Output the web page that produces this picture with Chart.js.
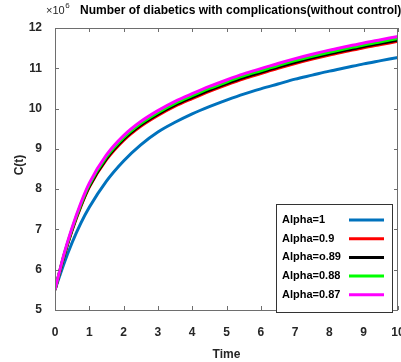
<!DOCTYPE html>
<html>
<head>
<meta charset="utf-8">
<script src="https://cdn.jsdelivr.net/npm/chart.js@4"></script>
<style>
  html, body { margin: 0; padding: 0; background: #fff; }
  #wrap { width: 401px; height: 362px; }
</style>
</head>
<body>
<div id="wrap"><canvas id="cChart" width="401" height="362"></canvas></div>
<script>
// time points and series values (units of 1e6)
const times = [0, 0.25, 0.5, 0.75, 1, 1.5, 2, 2.5, 3, 3.5, 4, 4.5, 5, 5.5, 6, 6.5, 7, 7.5, 8, 8.5, 9, 9.5, 10];
const alpha1   = [5.5, 6.125, 6.675, 7.15, 7.55, 8.2, 8.7, 9.1, 9.42, 9.66, 9.87, 10.05, 10.21, 10.36, 10.49, 10.61, 10.73, 10.83, 10.93, 11.02, 11.11, 11.19, 11.27];
const alpha090 = [5.5, 6.3, 6.98, 7.56, 8.05, 8.73, 9.21, 9.56, 9.83, 10.06, 10.25, 10.43, 10.59, 10.74, 10.87, 11.0, 11.12, 11.23, 11.33, 11.42, 11.51, 11.59, 11.67];
const alpha089 = [5.5, 6.31, 7.0, 7.58, 8.07, 8.76, 9.24, 9.59, 9.86, 10.09, 10.28, 10.46, 10.62, 10.77, 10.9, 11.03, 11.15, 11.26, 11.36, 11.45, 11.54, 11.62, 11.7];
const alpha088 = [5.5, 6.33, 7.02, 7.61, 8.11, 8.8, 9.28, 9.63, 9.9, 10.13, 10.32, 10.5, 10.66, 10.81, 10.94, 11.07, 11.19, 11.3, 11.4, 11.49, 11.58, 11.66, 11.74];
const alpha087 = [5.5, 6.35, 7.05, 7.65, 8.15, 8.85, 9.33, 9.68, 9.95, 10.18, 10.37, 10.55, 10.71, 10.86, 10.99, 11.12, 11.24, 11.35, 11.45, 11.54, 11.63, 11.71, 11.79];

const seriesLabels = ['Alpha=1', 'Alpha=0.9', 'Alpha=o.89', 'Alpha=0.88', 'Alpha=0.87'];
const seriesColors = ['#0072BD', '#FF0000', '#000000', '#00FF00', '#FF00FF'];
const seriesData = [alpha1, alpha090, alpha089, alpha088, alpha087];

const xTicks = [0, 1, 2, 3, 4, 5, 6, 7, 8, 9, 10];
const yTicks = [5, 6, 7, 8, 9, 10, 11, 12];

const titleText = 'Number of diabetics with complications(without control)';
const xTitle = 'Time';
const yTitle = 'C(t)';

const FONT = '"Liberation Sans", Arial, sans-serif';
const AXIS = '#6e6e6e';

// MATLAB style box, inward ticks, labels, legend
const matlabAxes = {
    id: 'matlabAxes',
    afterDatasetsDraw(chart) {
        const ctx = chart.ctx;
        const a = chart.chartArea;
        const xs = chart.scales.x, ys = chart.scales.y;
        ctx.save();
        ctx.strokeStyle = AXIS;
        ctx.lineWidth = 1;
        ctx.strokeRect(a.left + 0.5, a.top + 0.5, a.right - a.left - 1, a.bottom - a.top);
        ctx.beginPath();
        xTicks.forEach(v => {
            const px = Math.round(xs.getPixelForValue(v)) + 0.5;
            ctx.moveTo(px, a.bottom); ctx.lineTo(px, a.bottom - 4);
            ctx.moveTo(px, a.top); ctx.lineTo(px, a.top + 4);
        });
        yTicks.forEach(v => {
            const py = Math.round(ys.getPixelForValue(v)) + 0.5;
            ctx.moveTo(a.left, py); ctx.lineTo(a.left + 4, py);
            ctx.moveTo(a.right, py); ctx.lineTo(a.right - 4, py);
        });
        ctx.stroke();

        // tick labels
        ctx.fillStyle = '#262626';
        ctx.font = 'bold 12px ' + FONT;
        ctx.textAlign = 'center';
        ctx.textBaseline = 'middle';
        xTicks.forEach(v => ctx.fillText(String(v), xs.getPixelForValue(v), 333));
        ctx.textAlign = 'right';
        yTicks.forEach(v => ctx.fillText(String(v), 42, ys.getPixelForValue(v)));

        // axis titles
        ctx.textAlign = 'center';
        ctx.fillText(xTitle, (a.left + a.right) / 2, 355);
        ctx.save();
        ctx.translate(20, 165);
        ctx.rotate(-Math.PI / 2);
        ctx.fillText(yTitle, 0, 0);
        ctx.restore();

        // exponent and title
        ctx.font = '11px ' + FONT;
        ctx.textAlign = 'left';
        ctx.fillText('\u00d710', 46, 11);
        const expX = 46 + ctx.measureText('\u00d710').width + 0.5;
        ctx.font = '8px ' + FONT;
        ctx.fillText('6', expX, 6);
        ctx.fillStyle = '#000';
        ctx.font = 'bold 12px ' + FONT;
        ctx.fillText(titleText, 80, 11);

        // legend
        ctx.fillStyle = '#fff';
        ctx.fillRect(276, 204, 116, 108);
        ctx.strokeStyle = '#333';
        ctx.strokeRect(276.5, 204.5, 116, 108);
        ctx.font = 'bold 11px ' + FONT;
        ctx.textAlign = 'left';
        seriesLabels.forEach((lab, i) => {
            const y = 220 + i * 18.7;
            ctx.fillStyle = '#000';
            ctx.fillText(lab, 282, y);
            ctx.strokeStyle = seriesColors[i];
            ctx.lineWidth = 3;
            ctx.beginPath();
            ctx.moveTo(349, y); ctx.lineTo(384, y);
            ctx.stroke();
        });
        ctx.restore();
    }
};

const datasets = seriesLabels.map((lab, i) => ({
    label: lab,
    data: times.map((t, j) => ({ x: t, y: seriesData[i][j] })),
    borderColor: seriesColors[i],
    borderWidth: 3,
    pointRadius: 0,
    cubicInterpolationMode: 'monotone',
    fill: false,
    order: seriesLabels.length - i // magenta drawn on top
}));

new Chart(document.getElementById('cChart'), {
    type: 'line',
    data: { datasets: datasets },
    options: {
        responsive: false,
        animation: false,
        layout: { padding: { left: 47, right: 3, top: 28, bottom: 44 } },
        plugins: { legend: { display: false }, tooltip: { enabled: false } },
        scales: {
            x: {
                type: 'linear', min: 0, max: 10,
                ticks: { display: false, stepSize: 1 },
                grid: { display: false }, border: { display: false }
            },
            y: {
                min: 5, max: 12,
                ticks: { display: false, stepSize: 1 },
                grid: { display: false }, border: { display: false }
            }
        }
    },
    plugins: [matlabAxes]
});
</script>
</body>
</html>
